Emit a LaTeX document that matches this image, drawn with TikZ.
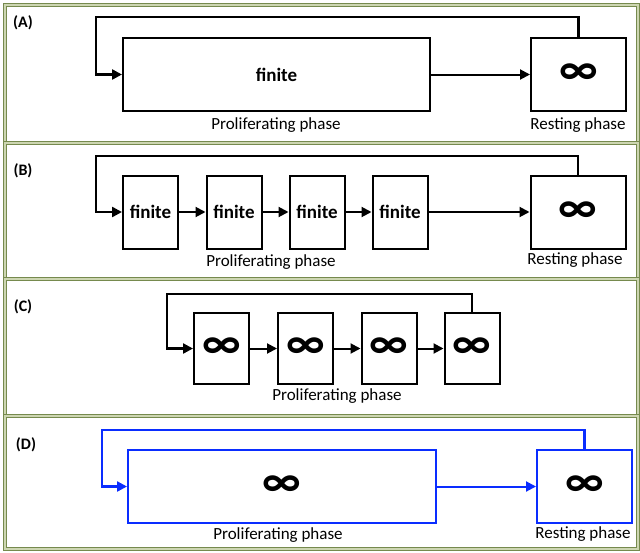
\documentclass[tikz,border=0pt]{standalone}
\usepackage{fontspec}
\setmainfont{Carlito}
\usetikzlibrary{arrows.meta}
\definecolor{panelolive}{RGB}{118,138,78}
\definecolor{panellight}{RGB}{205,214,178}
\definecolor{cellblue}{RGB}{10,45,255}

\begin{document}
\begin{tikzpicture}[x=1pt,y=-1pt,
    panel/.style={draw=panelolive, line width=1.1pt, double=panellight, double distance=1.4pt},
    cell/.style={draw, line width=2pt, inner sep=0pt, minimum height=73pt},
    small/.style={cell, minimum width=55pt},
    fin/.style={font=\fontsize{19}{21}\selectfont\bfseries},
    inf/.style={font=\fontsize{46}{48}\selectfont\bfseries},
    flow/.style={line width=2pt, -{Triangle[length=10pt,width=10pt]}},
    back/.style={flow, line width=2.4pt},
    phase/.style={font=\fontsize{17}{19}\selectfont},
    tag/.style={font=\fontsize{16}{18}\selectfont\bfseries}
  ]
  \useasboundingbox (0,0) rectangle (640,552);

  % Panels
  \draw[panel] (5,5) rectangle (638,143);
  \draw[panel] (5,143) rectangle (638,279);
  \draw[panel] (5,279) rectangle (638,416);
  \draw[panel] (5,416) rectangle (638,549);

  % (A)
  \node[tag] (tagA) at (23,23) {(A)};
  \node[cell, fin, minimum width=307pt] (finA) at (276.5,74.5) {finite};
  \node[cell, inf, minimum width=95pt] (restA) at (578.5,74.5) {∞};
  \node[phase] (proA) at (276,125) {Proliferating phase};
  \node[phase] (resA) at (578,125) {Resting phase};
  \draw[flow] (finA) -- (restA);
  \draw[back] (restA.north) |- (96,17) |- (finA.west);

  % (B)
  \node[tag] (tagB) at (23,171) {(B)};
  \node[small, fin] (b1) at (150.5,212) {finite};
  \node[small, fin] (b2) at (234,212) {finite};
  \node[small, fin] (b3) at (317,212) {finite};
  \node[small, fin] (b4) at (400,212) {finite};
  \node[cell, inf, minimum width=95pt] (restB) at (578,212) {∞};
  \node[phase] (proB) at (271,262) {Proliferating phase};
  \node[phase] (resB) at (575,260) {Resting phase};
  \draw[flow] (b1) -- (b2);
  \draw[flow] (b2) -- (b3);
  \draw[flow] (b3) -- (b4);
  \draw[flow] (b4) -- (restB);
  \draw[back] (restB.north) |- (96,156) |- (b1.west);

  % (C)
  \node[tag] (tagC) at (23,307) {(C)};
  \node[small, inf, minimum height=71pt] (c1) at (221.5,348.5) {∞};
  \node[small, inf, minimum height=71pt] (c2) at (305.5,348.5) {∞};
  \node[small, inf, minimum height=71pt] (c3) at (389,348.5) {∞};
  \node[small, inf, minimum height=71pt] (c4) at (472,348.5) {∞};
  \node[phase] (proC) at (337,396) {Proliferating phase};
  \draw[flow] (c1) -- (c2);
  \draw[flow] (c2) -- (c3);
  \draw[flow] (c3) -- (c4);
  \draw[back] (c4.north) |- (167,294) |- (c1.west);

  % (D)
  \node[tag] (tagD) at (26,445) {(D)};
  \node[cell, inf, draw=cellblue, minimum width=308pt] (finD) at (282,486.5) {∞};
  \node[cell, inf, draw=cellblue, minimum width=95pt] (restD) at (584.5,486.5) {∞};
  \node[phase] (proD) at (278,535) {Proliferating phase};
  \node[phase] (resD) at (583,534) {Resting phase};
  \draw[flow, cellblue] (finD) -- (restD);
  \draw[back, cellblue] (restD.north) |- (102,430) |- (finD.west);
\end{tikzpicture}
\end{document}
